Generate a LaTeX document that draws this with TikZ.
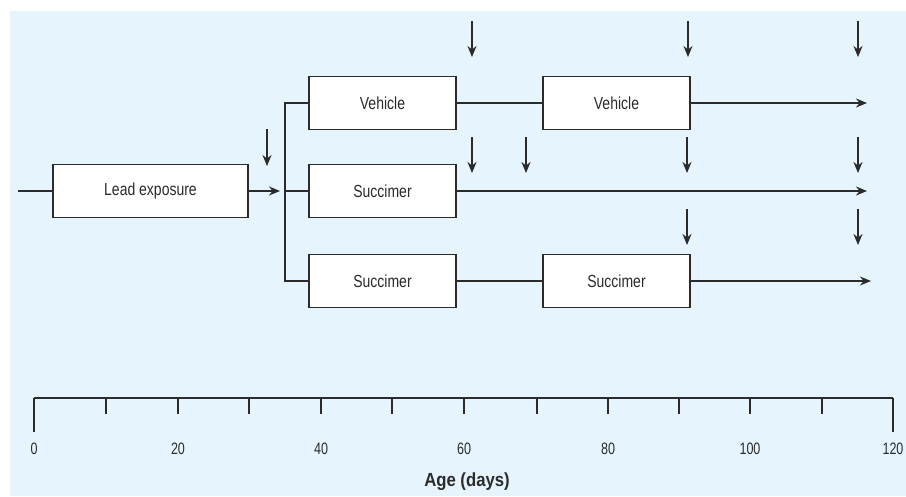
\documentclass[tikz,border=0pt]{standalone}
\usepackage{fontspec}
\setmainfont{Liberation Sans}[FakeStretch=0.8]
\newfontfamily\numfont{Liberation Sans}[FakeStretch=0.76]
\newfontfamily\labfont{Liberation Sans}[FakeStretch=0.88]
\usetikzlibrary{arrows.meta}
\definecolor{bgblue}{HTML}{E6F5FD}
\definecolor{ink}{HTML}{2B2B2B}
\tikzset{
  stagebox/.style={draw=ink, fill=white, line width=1.4pt, inner sep=0pt,
    minimum height=53pt, text=ink, font=\fontsize{17.5}{20}\selectfont},
  conn/.style={draw=ink, line width=1.4pt},
  arr/.style={conn, -{Stealth[length=11pt,width=9pt,inset=3.5pt]}},
  tick/.style={draw=ink, line width=1.3pt},
  ticklab/.style={text=ink, font=\numfont\fontsize{16.5}{18}\selectfont},
  axlab/.style={text=ink, font=\labfont\bfseries\fontsize{19}{21}\selectfont}
}
\begin{document}
\begin{tikzpicture}[x=1pt,y=-1pt]
\useasboundingbox (0,0) rectangle (906,496);
\fill[bgblue] (10,11) rectangle (906,496);

% boxes
\node[stagebox, minimum width=195pt] (lead) at (150.5,191) {Lead exposure};
\node[stagebox, minimum width=147pt] (veh1) at (382.5,103) {Vehicle};
\node[stagebox, minimum width=147pt] (suc2) at (382.5,191) {Succimer};
\node[stagebox, minimum width=147pt] (suc3) at (382.5,281) {Succimer};
\node[stagebox, minimum width=147pt] (veh2) at (616.5,103) {Vehicle};
\node[stagebox, minimum width=147pt] (suc4) at (616.5,281) {Succimer};

% coordinates
\coordinate (start) at (18,191);
\coordinate (leadend) at (280,191);
\coordinate (br1) at (285,103);
\coordinate (br2) at (285,191);
\coordinate (br3) at (285,281);
\coordinate (end1) at (867,103);
\coordinate (end2) at (867,191);
\coordinate (end3) at (871,281);

% connectors
\draw[conn] (start) -- (lead.west);
\draw[arr] (lead.east) -- (leadend);
\draw[conn] (veh1.west) -- (br1) -- (br3) -- (suc3.west);
\draw[conn] (br2) -- (suc2.west);
\draw[conn] (veh1.east) -- (veh2.west);
\draw[arr] (veh2.east) -- (end1);
\draw[arr] (suc2.east) -- (end2);
\draw[conn] (suc3.east) -- (suc4.west);
\draw[arr] (suc4.east) -- (end3);

% downward arrows
\coordinate (d0s) at (267,129); \coordinate (d0e) at (267,166);
\draw[arr] (d0s) -- (d0e);
\foreach \i/\x in {1/472,2/688,3/858}{
  \coordinate (ta\i) at (\x,21); \coordinate (tb\i) at (\x,57);
  \draw[arr] (ta\i) -- (tb\i);
}
\foreach \i/\x in {1/472,2/526,3/687,4/858}{
  \coordinate (ma\i) at (\x,137); \coordinate (mb\i) at (\x,173);
  \draw[arr] (ma\i) -- (mb\i);
}
\foreach \i/\x in {1/687,2/858}{
  \coordinate (ba\i) at (\x,209); \coordinate (bb\i) at (\x,245);
  \draw[arr] (ba\i) -- (bb\i);
}

% axis
\coordinate (ax0) at (34,398);
\coordinate (ax1) at (893,398);
\draw[tick] (ax0) -- (ax1);
\foreach \x in {106,178,249,321,392,464,537,608,679,750,822}{
  \draw[tick] (\x,397.5) -- (\x,414);
}
\draw[tick] (34,397.5) -- (34,432);
\draw[tick] (893,397.5) -- (893,432);
\foreach \k/\x/\lab in {0/34/0,2/178/20,4/321/40,6/464/60,8/608/80,10/750/100,12/893/120}{
  \node[ticklab] (tl\k) at (\x,449) {\lab};
}
\node[axlab] (agelab) at (467,482) {Age (days)};
\end{tikzpicture}
\end{document}
